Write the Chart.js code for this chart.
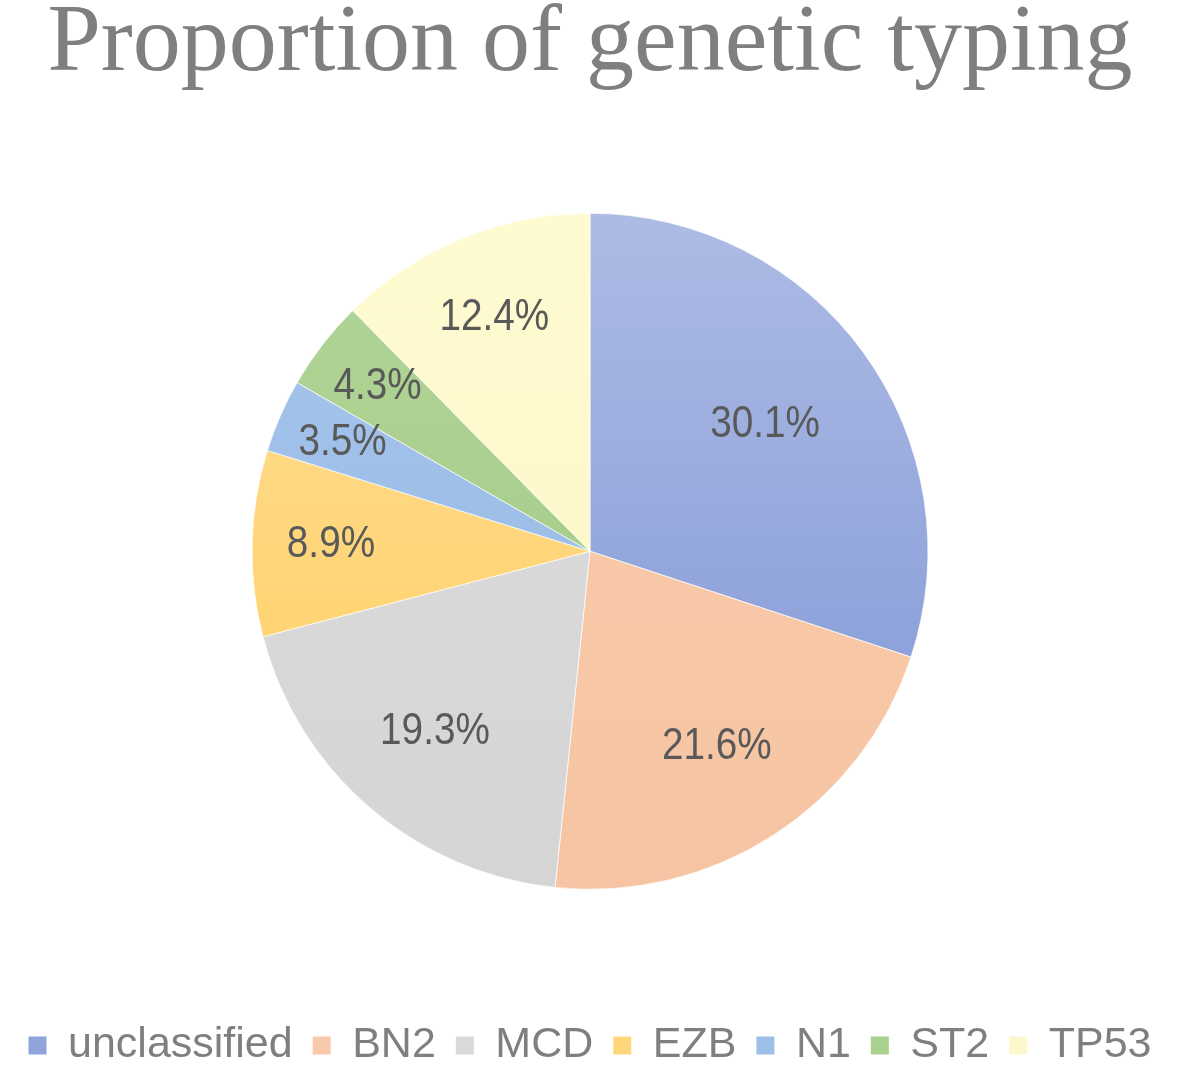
<!DOCTYPE html>
<html>
<head>
<meta charset="utf-8">
<title>Proportion of genetic typing</title>
<script src="https://cdn.jsdelivr.net/npm/chart.js"></script>
<style>
  html, body { margin: 0; padding: 0; background: #fff; overflow: hidden; }
  #wrap { position: relative; width: 1192px; height: 1077px; }
</style>
</head>
<body>
<div id="wrap"><canvas id="pieChart"></canvas></div>
<script>
  // Data
  const categories = ['unclassified', 'BN2', 'MCD', 'EZB', 'N1', 'ST2', 'TP53'];
  const shares = [30.1, 21.6, 19.3, 8.9, 3.5, 4.3, 12.4];

  // Slice colours (top / bottom of the vertical gradient) and legend swatches
  const topColors = ['#adbbe4', '#f9ccae', '#dddddd', '#ffdd97', '#a7c6ec', '#b2d597', '#fffbd1'];
  const bottomColors = ['#7d95d6', '#f6c4a2', '#d5d5d5', '#ffcf5e', '#93b6e3', '#9fc883', '#fbf5c6'];
  const swatchColors = ['#8ea4db', '#f8c9aa', '#d9d9d9', '#ffd67a', '#9dbfe8', '#a9d18e', '#fdf8cc'];

  const PIE_RADIUS = 338;
  const sansFont = '"Liberation Sans", Arial, sans-serif';

  function sliceFill(ctx) {
    const i = ctx.dataIndex;
    const area = ctx.chart.chartArea;
    if (!area) return topColors[i];
    const cy = (area.top + area.bottom) / 2;
    const g = ctx.chart.ctx.createLinearGradient(0, cy - PIE_RADIUS, 0, cy + PIE_RADIUS);
    g.addColorStop(0, topColors[i]);
    g.addColorStop(1, bottomColors[i]);
    return g;
  }

  // Percent labels inside the slices (slightly condensed, like the source font)
  const sliceLabels = {
    id: 'sliceLabels',
    afterDatasetsDraw(chart) {
      const ctx = chart.ctx;
      const meta = chart.getDatasetMeta(0);
      meta.data.forEach((arc, i) => {
        const p = arc.getProps(['x', 'y', 'startAngle', 'endAngle', 'outerRadius'], true);
        const mid = (p.startAngle + p.endAngle) / 2;
        const frac = 0.82 - 0.6 * (shares[i] / 100);
        const r = p.outerRadius * frac;
        ctx.save();
        ctx.translate(p.x + Math.cos(mid) * r, p.y + Math.sin(mid) * r);
        ctx.scale(0.88, 1);
        ctx.font = '44px ' + sansFont;
        ctx.fillStyle = '#595959';
        ctx.textAlign = 'center';
        ctx.textBaseline = 'middle';
        ctx.fillText(shares[i].toFixed(1) + '%', 0, 0);
        ctx.restore();
      });
    }
  };

  const pieCtx = document.getElementById('pieChart').getContext('2d');
  const pieChart = new Chart(pieCtx, {
    type: 'pie',
    data: {
      labels: categories,
      datasets: [{
        data: shares,
        backgroundColor: sliceFill,
        borderColor: 'rgba(255, 255, 255, 0.7)',
        borderWidth: 1,
        radius: PIE_RADIUS
      }]
    },
    options: {
      responsive: true,
      maintainAspectRatio: false,
      animation: false,
      layout: { padding: { right: 12 } },
      plugins: {
        title: {
          display: true,
          text: 'Proportion of genetic typing',
          color: '#7f7f7f',
          font: { family: '"Liberation Serif", "Times New Roman", serif', size: 96, weight: 'normal', lineHeight: 0.9375 },
          padding: { top: 0, bottom: 8.5 }
        },
        legend: {
          position: 'bottom',
          labels: {
            color: '#7f7f7f',
            font: { family: sansFont, size: 43 },
            boxWidth: 18,
            boxHeight: 18,
            padding: 20,
            generateLabels(chart) {
              const items = Chart.overrides.pie.plugins.legend.labels.generateLabels(chart);
              items.forEach((item, i) => {
                item.fillStyle = swatchColors[i];
                item.strokeStyle = swatchColors[i];
                item.lineWidth = 0;
              });
              return items;
            }
          }
        },
        tooltip: { enabled: false }
      }
    },
    plugins: [sliceLabels]
  });
</script>
</body>
</html>
